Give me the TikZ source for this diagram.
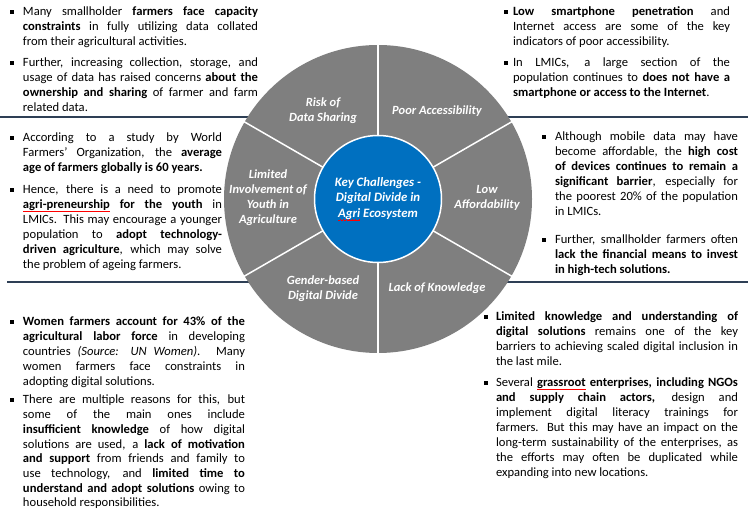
\documentclass[tikz,border=0pt]{standalone}
\usepackage{fontspec}
\setmainfont{Carlito}
\definecolor{wheelgray}{HTML}{7F7F7F}
\definecolor{hubblue}{HTML}{0070C0}
\definecolor{rulecol}{HTML}{2E3F55}
\newcommand\bodyfont{\fontsize{12.6}{15}\selectfont}
\newcommand\JL[1]{\makebox[\linewidth][s]{#1}\par}
\newcommand\LL[1]{#1\par}
\newsavebox\spellbox
\newcommand\spellwave{\hbox{\rule[-3pt]{0.7pt}{0.5pt}\rule[-2.6pt]{0.7pt}{0.5pt}\rule[-2.2pt]{0.7pt}{0.5pt}\rule[-2.6pt]{0.7pt}{0.5pt}}}
\newcommand\spell[1]{\sbox\spellbox{#1}\rlap{\color{red}\hbox to \wd\spellbox{\xleaders\spellwave\hfil}}\usebox\spellbox}
\newcommand\para[6]{%
  \fill[black] (#2,-#4+2) rectangle ++(4.3,4.3);
  \node[txt] (#1) at (#3,-#4) {\parbox[t]{#5pt}{\bodyfont #6}};}
\tikzset{
  txt/.style={anchor=base west, inner sep=0pt, outer sep=0pt},
  seglabel/.style={text=white, font=\fontsize{12.5}{15}\selectfont\bfseries\itshape, align=center, inner sep=0pt},
  sepline/.style={draw=rulecol, line width=1.1pt},
  divider/.style={draw=white, line width=1.5pt}
}
\begin{document}
\begin{tikzpicture}[x=1pt,y=1pt]
\useasboundingbox (0,-510) rectangle (755,0);
\fill[white] (0,-510) rectangle (755,0);
% separator lines
\coordinate (s1a) at (0,-117); \coordinate (s1b) at (748,-117);
\coordinate (s2a) at (7,-282); \coordinate (s2b) at (748,-282);
\draw[sepline] (s1a) -- (s1b);
\draw[sepline] (s2a) -- (s2b);
% wheel
\coordinate (C) at (378,-199);
\fill[wheelgray] (C) circle (154);
\foreach \a in {30,90,150,210,270,330}
  \draw[divider, shift={(378,-199)}] (\a:60) -- (\a:155);
\node[circle, fill=hubblue, draw=white, line width=1.5pt, minimum size=127pt, inner sep=0pt] (hub) at (C) {};
\node[seglabel, font=\fontsize{12.8}{15.5}\selectfont\bfseries\itshape] (hubtxt) at (378,-199) {Key Challenges -\\Digital Divide in\\\spell{Agri} Ecosystem};
\node[seglabel] (risk) at (323,-110.5) {Risk of\\Data Sharing};
\node[seglabel] (poor) at (437,-111) {Poor Accessibility};
\node[seglabel] (youth) at (268,-198) {Limited\\Involvement of\\Youth in\\Agriculture};
\node[seglabel] (afford) at (487,-198) {Low\\Affordability};
\node[seglabel] (gender) at (323,-288.5) {Gender-based\\Digital Divide};
\node[seglabel] (know) at (437,-288) {Lack of Knowledge};
% top-left
\para{tl1}{10}{23}{16}{235}{%
\JL{Many smallholder \textbf{farmers face capacity}}
\JL{\textbf{constraints} in fully utilizing data collated}
\LL{from their agricultural activities.}}
\para{tl2}{10}{23}{67}{235}{%
\JL{Further, increasing collection, storage, and}
\JL{usage of data has raised concerns \textbf{about the}}
\JL{\textbf{ownership and sharing} of farmer and farm}
\LL{related data.}}
% top-right
\para{tr1}{504}{513}{16}{217}{%
\JL{\textbf{Low smartphone penetration} and}
\JL{Internet access are some of the key}
\LL{indicators of poor accessibility.}}
\para{tr2}{504}{513}{67}{217}{%
\JL{In LMICs, a large section of the}
\JL{population continues to \textbf{does not have a}}
\LL{\textbf{smartphone or access to the Internet}.}}
% middle-left
\para{ml1}{10}{23}{142}{199}{%
\JL{According to a study by World}
\JL{Farmers’ Organization, the \textbf{average}}
\LL{\textbf{age of farmers globally is 60 years.}}}
\para{ml2}{10}{23}{194}{199}{%
\JL{Hence, there is a need to promote}
\JL{\textbf{\spell{agri-preneurship} for the youth} in}
\JL{LMICs. This may encourage a younger}
\JL{population to \textbf{adopt technology-}}
\JL{\textbf{driven agriculture}, which may solve}
\LL{the problem of ageing farmers.}}
% middle-right
\para{mr1}{542}{555}{141}{183}{%
\JL{Although mobile data may have}
\JL{become affordable, the \textbf{high cost}}
\JL{\textbf{of devices continues to remain a}}
\JL{\textbf{significant barrier}, especially for}
\JL{the poorest 20\% of the population}
\LL{in LMICs.}}
\para{mr2}{542}{555}{244}{183}{%
\JL{Further, smallholder farmers often}
\JL{\textbf{lack the financial means to invest}}
\LL{\textbf{in high-tech solutions.}}}
% bottom-left
\para{bl1}{10}{23}{326}{222}{%
\JL{\textbf{Women farmers account for 43\% of the}}
\JL{\textbf{agricultural labor force} in developing}
\JL{countries \textit{(Source: UN Women)}. Many}
\JL{women farmers face constraints in}
\LL{adopting digital solutions.}}
\para{bl2}{10}{23}{404}{222}{\fontsize{12.6}{14.7}\selectfont
\JL{There are multiple reasons for this, but}
\JL{some of the main ones include}
\JL{\textbf{insufficient knowledge} of how digital}
\JL{solutions are used, a \textbf{lack of motivation}}
\JL{\textbf{and support} from friends and family to}
\JL{use technology, and \textbf{limited time to}}
\JL{\textbf{understand and adopt solutions} owing to}
\LL{household responsibilities.}}
% bottom-right
\para{br1}{484}{496}{321}{242}{%
\JL{\textbf{Limited knowledge and understanding of}}
\JL{\textbf{digital solutions} remains one of the key}
\JL{barriers to achieving scaled digital inclusion in}
\LL{the last mile.}}
\para{br2}{484}{496}{387}{242}{%
\JL{Several \textbf{\spell{grassroot} enterprises, including NGOs}}
\JL{\textbf{and supply chain actors,} design and}
\JL{implement digital literacy trainings for}
\JL{farmers. But this may have an impact on the}
\JL{long-term sustainability of the enterprises, as}
\JL{the efforts may often be duplicated while}
\LL{expanding into new locations.}}
\end{tikzpicture}
\end{document}
